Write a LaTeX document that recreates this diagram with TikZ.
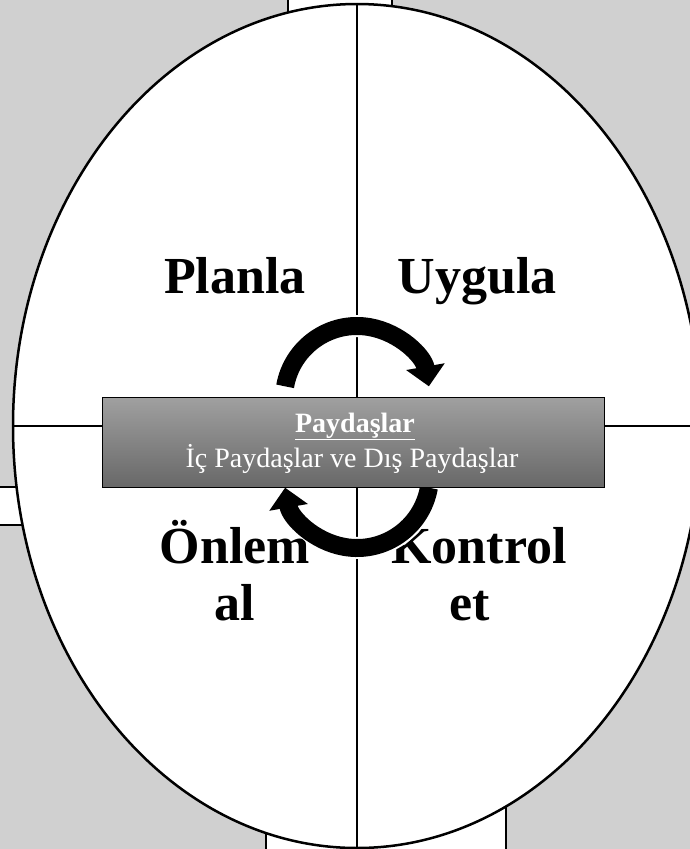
\documentclass[tikz,border=0pt]{standalone}
\usepackage{fontspec}
\setmainfont{Liberation Serif}
\usetikzlibrary{arrows.meta,shapes.geometric}
\definecolor{bg}{RGB}{208,208,208}
\definecolor{boxtop}{RGB}{160,160,160}
\definecolor{boxbot}{RGB}{104,104,104}
\begin{document}
\begin{tikzpicture}[x=1pt,y=-1pt,
  frame/.style={draw=black,line width=1.5pt,fill=white},
  big/.style={font=\fontsize{52}{58}\selectfont\bfseries, inner sep=0pt, anchor=base},
  boxtext/.style={font=\fontsize{28}{33}\selectfont, text=white, inner sep=0pt, anchor=base},
  cyclearrow/.style={line width=18pt,-{Triangle[width=38pt,length=20pt]}},
  arrowhalo/.style={line width=22pt,white}]
\useasboundingbox (0,0) rectangle (690,849);
\clip (0,0) rectangle (690,849);
\fill[bg] (0,0) rectangle (690,849);
% white boxes behind the oval
\draw[frame] (288,-10) rectangle (392,120);
\draw[frame] (266,700) rectangle (506,870);
\draw[frame] (-10,487) rectangle (120,525);
% oval
\node[ellipse, draw=black, line width=2.5pt, fill=white, inner sep=0pt,
      minimum width=688pt, minimum height=844pt] (E) at (357,426) {};
\draw[line width=2pt] (E.north) -- (E.south);
\draw[line width=2pt] (E.west) -- (E.east);
% labels
\node[big] (planla) at (235,293) {Planla};
\node[big] (uygula) at (477,293) {Uygula};
\node[big] (onlem) at (235,563) {Önlem};
\node[big] (al) at (235,620) {al};
\node[big] (kontrol) at (479,563) {Kontrol};
\node[big] (et) at (470,620) {et};
% cycle arrows
\coordinate (c1) at (357,399);
\coordinate (c2) at (357,475);
\draw[arrowhalo] ([shift={(190:73)}]c1) arc[start angle=190, end angle=335, radius=73];
\draw[cyclearrow] ([shift={(190:73)}]c1) arc[start angle=190, end angle=350, radius=73];
\draw[arrowhalo] ([shift={(10:73)}]c2) arc[start angle=10, end angle=155, radius=73];
\draw[cyclearrow] ([shift={(10:73)}]c2) arc[start angle=10, end angle=170, radius=73];
% central box
\node[draw=black, line width=1pt, top color=boxtop, bottom color=boxbot,
      minimum width=502pt, minimum height=90pt, inner sep=0pt] (pay) at (353,442) {};
\node[boxtext] (t1) at (355,432) {\textbf{\underline{Paydaşlar}}};
\node[boxtext] (t2) at (352,467) {İç Paydaşlar ve Dış Paydaşlar};
\end{tikzpicture}
\end{document}
